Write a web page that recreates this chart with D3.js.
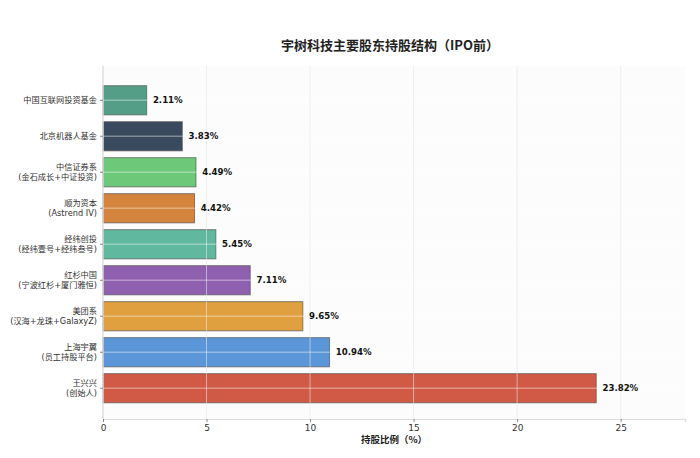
<!DOCTYPE html>
<html><head><meta charset="utf-8">
<script src="https://cdn.jsdelivr.net/npm/d3@7"></script>
<style>
body{margin:0;background:#fff;}
svg{display:block;font-family:"Noto Sans CJK SC","DejaVu Sans",sans-serif;}
</style></head>
<body><svg id="c" width="700" height="458"></svg>
<script>
const categories = ["王兴兴\n(创始人)","上海宇翼\n(员工持股平台)","美团系\n(汉海+龙珠+GalaxyZ)","红杉中国\n(宁波红杉+厦门雅恒)","经纬创投\n(经纬壹号+经纬叁号)","顺为资本\n(Astrend IV)","中信证券系\n(金石成长+中证投资)","北京机器人基金","中国互联网投资基金"];
const values = [23.82,10.94,9.65,7.11,5.45,4.42,4.49,3.83,2.11];
const colors = ["#d05a46","#5a96d8","#e0a040","#9060b0","#60b89e","#d4843c","#6ec87a","#3a4a5e","#549e87"];
const xTicks = [0,5,10,15,20,25];
const title = "宇树科技主要股东持股结构（IPO前）";
const xLabel = "持股比例（%）";

const svg = d3.select("#c");
const L=103,R=685,T=66,B=419;
const x = d3.scaleLinear().domain([0, d3.max(values)*1.18]).range([L,R]);
const y = d3.scaleBand().domain(categories).range([B,69.5]).paddingInner(0.19).paddingOuter(0.45);

svg.append("rect").attr("x",L).attr("y",T).attr("width",R-L).attr("height",B-T).attr("fill","#fcfcfc");

const g = svg.append("g");
g.selectAll("rect.bar").data(values).join("rect").attr("class","bar")
  .attr("x",x(0)).attr("y",(d,i)=>y(categories[i]))
  .attr("width",d=>x(d)-x(0)).attr("height",y.bandwidth())
  .attr("fill",(d,i)=>colors[i]).attr("stroke","#555").attr("stroke-opacity",0.7).attr("stroke-width",1);

// grid on top
const grid = svg.append("g");
grid.selectAll("line.v").data(xTicks).join("line")
  .attr("x1",d=>x(d)).attr("x2",d=>x(d)).attr("y1",T).attr("y2",B)
  .attr("stroke","#e6e6e6").attr("stroke-opacity",0.6).attr("stroke-width",1);
grid.selectAll("line.h").data(categories).join("line")
  .attr("x1",L).attr("x2",R).attr("y1",d=>y(d)+y.bandwidth()/2).attr("y2",d=>y(d)+y.bandwidth()/2)
  .attr("stroke","#ffffff").attr("stroke-opacity",0.35).attr("stroke-width",1.5);

// axes
const xAxis = svg.append("g").attr("transform",`translate(0,${B})`)
  .call(d3.axisBottom(x).tickValues(xTicks).tickSize(3).tickPadding(3));
xAxis.select(".domain").attr("stroke","#ddd").attr("stroke-width",1.2);
xAxis.selectAll(".tick line").attr("stroke","#888");
xAxis.selectAll(".tick text").attr("font-size",9).attr("fill","#333").attr("font-family","DejaVu Sans");

svg.append("line").attr("x1",L).attr("x2",L).attr("y1",T).attr("y2",B).attr("stroke","#ddd").attr("stroke-width",1.2);

const yt = svg.append("g");
categories.forEach(c=>{
  const cy = y(c)+y.bandwidth()/2;
  yt.append("line").attr("x1",L-3).attr("x2",L).attr("y1",cy).attr("y2",cy).attr("stroke","#888");
  const lines = c.split("\n");
  const t = yt.append("text").attr("x",L-6).attr("text-anchor","end").attr("font-size",8.2).attr("fill","#333")
    .attr("font-family","'DejaVu Sans','Noto Sans CJK SC',sans-serif");
  lines.forEach((ln,k)=>{
    t.append("tspan").attr("x",L-6).attr("y",cy + (k-(lines.length-1)/2)*10.5).attr("dy","0.35em").text(ln);
  });
});

// value labels
svg.selectAll("text.val").data(values).join("text").attr("class","val")
  .attr("x",d=>x(d+0.3)).attr("y",(d,i)=>y(categories[i])+y.bandwidth()/2).attr("dy","0.35em")
  .attr("font-size",8.6).attr("font-weight","bold").attr("fill","#111").attr("font-family","DejaVu Sans")
  .text(d=>d.toFixed(2)+"%");

svg.append("text").attr("x",390).attr("y",50).attr("text-anchor","middle")
  .attr("font-size",13).attr("font-weight","bold").attr("fill","#222").text(title);
svg.append("text").attr("x",(L+R)/2).attr("y",443).attr("text-anchor","middle")
  .attr("font-size",9.5).attr("font-weight","bold").attr("fill","#222").text(xLabel);
</script></body></html>
